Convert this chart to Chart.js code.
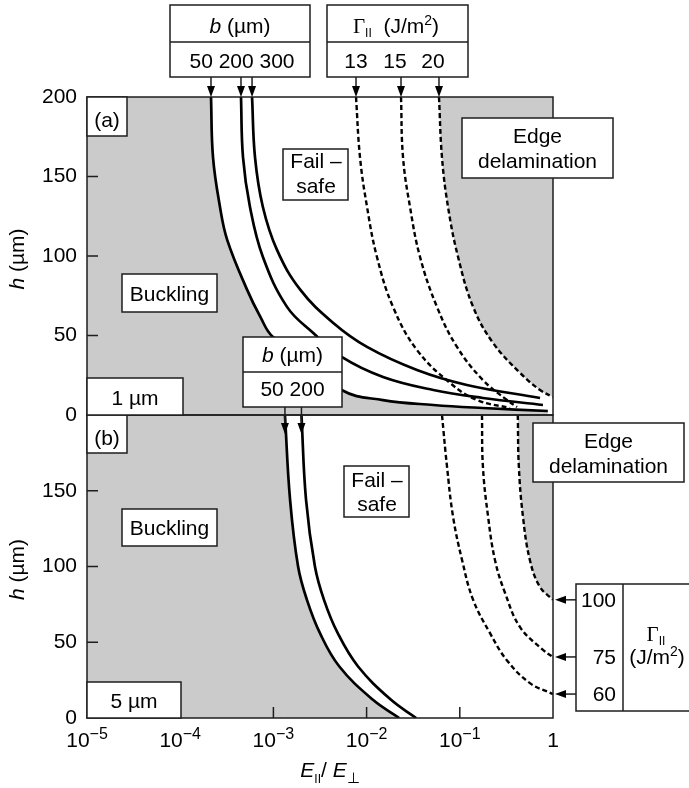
<!DOCTYPE html>
<html>
<head>
<title>Buckling / edge delamination map</title>
<script src="https://cdn.jsdelivr.net/npm/chart.js@4.4.1/dist/chart.umd.min.js"></script>
<style>
    body { margin: 0; background: #fff; }
    #wrap { width: 689px; height: 788px; }
</style>
</head>
<body>
<div id="wrap"><canvas id="map" width="689" height="788"></canvas></div>
<script>
// [E_par/E_perp, h (um)], sorted by E
// panel (a), 1 um film: solid = buckling limit for b, dashed = edge delamination for Gamma
const A_B50  = [[2.14e-4,200],[2.25e-4,162],[2.67e-4,131],[3.2e-4,110],[5.2e-4,79],[7.2e-4,62],[9.9e-4,49],[5.4e-3,15.7],[0.015,9.4],[0.052,6.3],[0.177,4.4],[0.88,2.5]];
const A_B200 = [[4.49e-4,200],[4.72e-4,162],[5.6e-4,131],[7.7e-4,99.5],[1.4e-3,68],[2.66e-3,51.7],[5.4e-3,36.5],[0.015,23.9],[0.052,15.7],[0.177,10.7],[0.78,6.3]];
const A_B300 = [[5.9e-4,200],[6.35e-4,162],[7.7e-4,131],[1.09e-3,104],[1.93e-3,79],[4.36e-3,58],[0.0101,42.8],[0.0347,28.3],[0.119,18.9],[0.726,10.7]];
const A_G13  = [[7.7e-3,200],[8.5e-3,162],[0.0101,131],[0.0129,99.5],[0.0192,68],[0.0347,40.9],[0.0785,20.2],[0.153,9.4],[0.346,4.4]];
const A_G15  = [[0.0234,200],[0.0246,162],[0.0292,131],[0.0374,99.5],[0.0569,68],[0.0933,42.8],[0.177,22],[0.321,9.4],[0.411,5]];
const A_G20  = [[0.0598,200],[0.0644,162],[0.0747,131],[0.0957,99.5],[0.139,68],[0.227,45.4],[0.443,26.5],[0.726,15.7],[1,11.3]];
// panel (b), 5 um film
const B_B50  = [[1.33e-3,200],[1.51e-3,144],[1.84e-3,100],[2.29e-3,78],[3.16e-3,56],[5.1e-3,34],[0.0117,12],[0.0224,0]];
const B_B200 = [[2.0e-3,200],[2.24e-3,144],[2.79e-3,100],[3.49e-3,78],[4.9e-3,56],[8.1e-3,34],[0.0183,12],[0.034,0]];
const B_G60  = [[0.0644,200],[0.0729,166],[0.0846,133],[0.106,104],[0.139,78],[0.211,56],[0.321,38],[0.566,23],[1,15.8]];
const B_G75  = [[0.173,200],[0.177,166],[0.201,133],[0.239,104],[0.306,82.5],[0.443,60],[0.78,45],[1,40.3]];
const B_G100 = [[0.419,200],[0.43,166],[0.476,133],[0.566,104],[0.724,86.5],[1,78]];

const X_TICKS = [1e-5, 1e-4, 1e-3, 1e-2, 1e-1, 1];
const X_EXP = ['\u22125', '\u22124', '\u22123', '\u22122', '\u22121', null];
const Y_TICKS = [0, 50, 100, 150, 200];
const A_B_LABEL = '50 200 300';
const A_G_LABELS = ['13', '15', '20'];
const B_B_LABEL = '50 200';
const B_G_LABELS = ['100', '75', '60'];

const GRAY = '#cbcbcb';
const INK = '#1e1e1e';
const FONT = "'Liberation Sans', Arial, Helvetica, sans-serif";
const SERIF = "'Liberation Serif', 'Times New Roman', serif";
const FS = 21;

function curve(data, axis, dashed, fill) {
    return {
        data: data.map(p => ({x: p[0], y: p[1]})),
        yAxisID: axis,
        borderColor: '#000',
        borderWidth: dashed ? 2.4 : 2.7,
        borderDash: dashed ? [5, 3] : [],
        pointRadius: 0,
        tension: 0.4,
        fill: fill || false,
        backgroundColor: GRAY
    };
}

function yScale(lower) {
    return {
        type: 'linear',
        position: 'left',
        stack: 'h',
        stackWeight: lower ? 303 : 318,
        min: 0,
        max: 200,
        grid: {display: false, drawTicks: false},
        border: {display: false},
        ticks: {
            stepSize: 50,
            padding: 10,
            color: '#000',
            font: {family: FONT, size: FS},
            callback: v => (lower && v === 200) ? '' : v
        },
        afterFit: s => { s.width = 87; }
    };
}

function fontOf(p) {
    return (p.i ? 'italic ' : '') + (p.s || FS) + 'px ' + (p.serif ? SERIF : FONT);
}

// draw a run of mixed text pieces
function say(ctx, parts, x, y, align) {
    parts = parts.map(p => typeof p === 'string' ? {t: p} : p);
    let w = 0;
    parts.forEach(p => { ctx.font = fontOf(p); w += ctx.measureText(p.t).width; });
    let cx = align === 'right' ? x - w : align === 'left' ? x : x - w / 2;
    ctx.textAlign = 'left';
    ctx.textBaseline = 'alphabetic';
    ctx.fillStyle = '#000';
    parts.forEach(p => {
        ctx.font = fontOf(p);
        ctx.fillText(p.t, cx, y + (p.dy || 0));
        cx += ctx.measureText(p.t).width;
    });
}

function frame(ctx, x0, y0, x1, y1) {
    ctx.fillStyle = '#fff';
    ctx.fillRect(x0, y0, x1 - x0, y1 - y0);
    ctx.strokeRect(x0, y0, x1 - x0, y1 - y0);
}

function arrow(ctx, x0, y0, x1, y1) {
    const a = Math.atan2(y1 - y0, x1 - x0), L = 11, W = 4;
    const bx = x1 - L * Math.cos(a), by = y1 - L * Math.sin(a);
    ctx.beginPath();
    ctx.moveTo(x0, y0);
    ctx.lineTo(bx, by);
    ctx.stroke();
    ctx.beginPath();
    ctx.moveTo(x1, y1);
    ctx.lineTo(bx + W * Math.sin(a), by - W * Math.cos(a));
    ctx.lineTo(bx - W * Math.sin(a), by + W * Math.cos(a));
    ctx.closePath();
    ctx.fillStyle = '#000';
    ctx.fill();
}

const annotate = {
    id: 'annotate',
    beforeDraw(chart) {
        const {ctx, scales: {x, yA, yB}} = chart;
        ctx.save();
        ctx.fillStyle = GRAY;
        // buckling side: everything left of where the first curve leaves the top
        ctx.fillRect(x.left, yA.top, x.getPixelForValue(A_B50[0][0]) - x.left, yA.bottom - yA.top);
        ctx.fillRect(x.left, yB.top, x.getPixelForValue(B_B50[0][0]) - x.left, yB.bottom - yB.top);
        ctx.restore();
    },
    afterDraw(chart) {
        const {ctx, scales: {x, yA, yB}} = chart;
        ctx.save();
        ctx.strokeStyle = INK;
        ctx.lineWidth = 1.5;

        // panel frames
        [yA, yB].forEach(s => ctx.strokeRect(x.left, s.top, x.right - x.left, s.bottom - s.top));

        // inward tick marks
        ctx.beginPath();
        [yA, yB].forEach(s => Y_TICKS.slice(1, -1).forEach(v => {
            const py = s.getPixelForValue(v);
            ctx.moveTo(x.left, py);
            ctx.lineTo(x.left + 11, py);
        }));
        X_TICKS.slice(1, -1).forEach(v => {
            const px = x.getPixelForValue(v);
            ctx.moveTo(px, yB.bottom);
            ctx.lineTo(px, yB.bottom - 11);
        });
        ctx.stroke();

        // x tick labels
        X_TICKS.forEach((v, i) => {
            const px = x.getPixelForValue(v);
            if (X_EXP[i]) say(ctx, ['10', {t: X_EXP[i], s: 16, dy: -8}], px, yB.bottom + 29);
            else say(ctx, ['1'], px, yB.bottom + 29);
        });

        // axis titles
        say(ctx, [{t: 'E', i: true}, {t: 'II', s: 12, dy: 6}, '/ ', {t: 'E', i: true}, {t: '\u22a5', s: 15, dy: 6}], 330, 777);
        [yA, yB].forEach(s => {
            ctx.save();
            ctx.translate(24, (s.top + s.bottom) / 2 + 3);
            ctx.rotate(-Math.PI / 2);
            say(ctx, [{t: 'h', i: true}, ' (\u00b5m)'], 0, 0);
            ctx.restore();
        });

        ctx.strokeStyle = INK;
        ctx.lineWidth = 1.5;

        // region labels
        frame(ctx, x.left, yA.top, 127, 136); say(ctx, ['(a)'], 107, 127);
        frame(ctx, x.left, yB.top, 127, 453); say(ctx, ['(b)'], 107, 445);
        frame(ctx, 122, 274, 217, 312); say(ctx, ['Buckling'], 169.5, 301);
        frame(ctx, 122, 509, 217, 546); say(ctx, ['Buckling'], 169.5, 535);
        frame(ctx, 283, 149, 348, 200); say(ctx, ['Fail \u2013'], 316, 168); say(ctx, ['safe'], 316, 193);
        frame(ctx, 344, 466, 409, 517); say(ctx, ['Fail \u2013'], 377, 487); say(ctx, ['safe'], 377, 511);
        frame(ctx, 462, 118, 613, 178); say(ctx, ['Edge'], 537.5, 143); say(ctx, ['delamination'], 537.5, 168);
        frame(ctx, 533, 423, 684, 482); say(ctx, ['Edge'], 608.5, 448); say(ctx, ['delamination'], 608.5, 473);
        frame(ctx, x.left, 378, 183, yA.bottom); say(ctx, ['1 \u00b5m'], 135, 405);
        frame(ctx, x.left, 682, 181, yB.bottom); say(ctx, ['5 \u00b5m'], 134, 708);

        // key boxes above panel (a)
        frame(ctx, 170, 5, 310, 77);
        frame(ctx, 327, 5, 468, 77);
        ctx.beginPath();
        ctx.moveTo(170, 42); ctx.lineTo(310, 42);
        ctx.moveTo(327, 42); ctx.lineTo(468, 42);
        ctx.stroke();
        say(ctx, [{t: 'b', i: true}, ' (\u00b5m)'], 240, 33);
        say(ctx, [A_B_LABEL], 242, 68);
        say(ctx, [{t: '\u0393', serif: true}, {t: 'II', s: 12, dy: 4}, '  (J/m', {t: '2', s: 14, dy: -8}, ')'], 396, 33);
        const gx = [356, 395, 433];
        A_G_LABELS.forEach((t, i) => say(ctx, [t], gx[i], 68));
        [A_B50, A_B200, A_B300, A_G13, A_G15, A_G20].forEach(c => {
            const px = x.getPixelForValue(c[0][0]);
            arrow(ctx, px, 77, px, yA.top);
        });

        // key box for panel (b) widths, sitting in panel (a)
        frame(ctx, 243, 337, 342, 407);
        ctx.beginPath(); ctx.moveTo(243, 372); ctx.lineTo(342, 372); ctx.stroke();
        say(ctx, [{t: 'b', i: true}, ' (\u00b5m)'], 292.5, 362);
        say(ctx, [B_B_LABEL], 292.5, 396);
        [B_B50, B_B200].forEach(c => {
            const px = x.getPixelForValue(c[0][0]);
            arrow(ctx, px, 407, px, yB.top + 19);
        });

        // Gamma key at the right of panel (b)
        frame(ctx, 576, 584, 700, 711);
        ctx.beginPath(); ctx.moveTo(623, 584); ctx.lineTo(623, 711); ctx.stroke();
        [B_G100, B_G75, B_G60].forEach((c, i) => {
            const py = yB.getPixelForValue(c[c.length - 1][1]);
            arrow(ctx, 576, py, x.right + 2, py);
            say(ctx, [B_G_LABELS[i]], 616, py + 7, 'right');
        });
        say(ctx, [{t: '\u0393', serif: true}, {t: 'II', s: 12, dy: 4}], 656, 641);
        say(ctx, ['(J/m', {t: '2', s: 14, dy: -8}, ')'], 657, 664);

        ctx.restore();
    }
};

new Chart(document.getElementById('map'), {
    type: 'line',
    data: {
        datasets: [
            curve(A_B50, 'yA', false, 'start'),
            curve(A_B200, 'yA', false),
            curve(A_B300, 'yA', false),
            curve(A_G13, 'yA', true),
            curve(A_G15, 'yA', true),
            curve(A_G20, 'yA', true, 'end'),
            curve(B_B50, 'yB', false, 'start'),
            curve(B_B200, 'yB', false),
            curve(B_G60, 'yB', true),
            curve(B_G75, 'yB', true),
            curve(B_G100, 'yB', true, 'end')
        ]
    },
    options: {
        responsive: false,
        animation: false,
        events: [],
        layout: {padding: {top: 97, right: 136, bottom: 0, left: 0}},
        plugins: {
            legend: {display: false},
            tooltip: {enabled: false},
            filler: {drawTime: 'beforeDatasetsDraw'}
        },
        scales: {
            x: {
                type: 'logarithmic',
                min: 1e-5,
                max: 1,
                ticks: {display: false},
                grid: {display: false},
                border: {display: false},
                afterFit: s => { s.height = 70; }
            },
            yB: yScale(true),
            yA: yScale(false)
        }
    },
    plugins: [annotate]
});
</script>
</body>
</html>
